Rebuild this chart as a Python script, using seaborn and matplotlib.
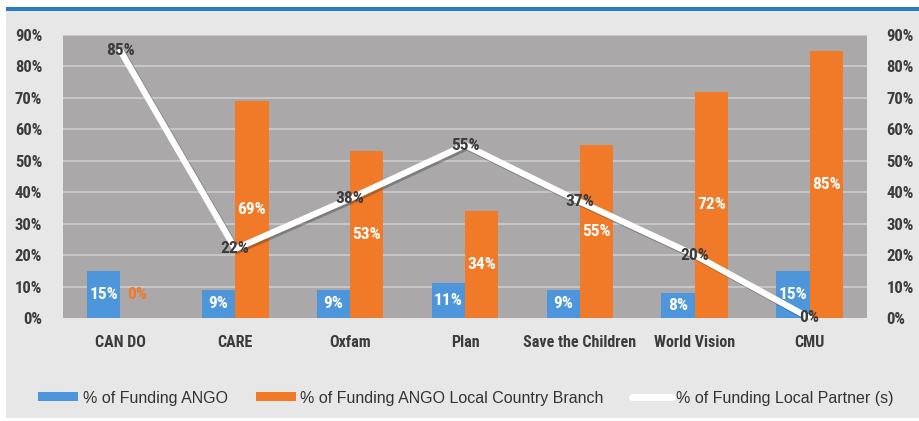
import numpy as np
import pandas as pd
import matplotlib
matplotlib.use("Agg")
import matplotlib.pyplot as plt
import matplotlib.patheffects as pe
from matplotlib.patches import Rectangle, Patch
from matplotlib.lines import Line2D
from matplotlib import font_manager as fm
import seaborn as sns

categories = ["CAN DO", "CARE", "Oxfam", "Plan", "Save the Children", "World Vision", "CMU"]
ango = [15, 9, 9, 11, 9, 8, 15]
branch = [0, 69, 53, 34, 55, 72, 85]
partner = [85, 22, 38, 55, 37, 20, 0]
yticks = [0, 10, 20, 30, 40, 50, 60, 70, 80, 90]
series_names = ["% of Funding ANGO", "% of Funding ANGO Local Country Branch",
                "% of Funding Local Partner (s)"]

BLUE = "#4d96dc"
ORANGE = "#f07a28"
PLOTBG = "#aaa8a8"
FIGBG = "#e8e7e8"
TXT = "#3c3c3c"

sns.set_theme(style="white")
plt.rcParams["font.family"] = ["Liberation Sans", "DejaVu Sans"]
avail = {f.name for f in fm.fontManager.ttflist}
NARROW = [n for n in ["DejaVu Sans Condensed", "Liberation Sans Narrow", "Roboto Condensed"]
          if n in avail] + ["Roboto", "DejaVu Sans"]

df = pd.DataFrame({
    "cat": categories * 2,
    "val": ango + branch,
    "series": [series_names[0]] * len(categories) + [series_names[1]] * len(categories),
})

fig = plt.figure(figsize=(9.19, 4.21), dpi=100)
fig.patch.set_facecolor("white")
W, H = 919, 421
fig.add_artist(Rectangle((6 / W, 3 / H), 1, 1 - 14 / H, transform=fig.transFigure,
                         facecolor=FIGBG, edgecolor="none", zorder=0))
fig.add_artist(Rectangle((6 / W, 1 - 11 / H), 1, 4 / H, transform=fig.transFigure,
                         facecolor="#2a7bc6", edgecolor="none", zorder=0))

ax = fig.add_axes([63 / W, 1 - 318 / H, (867 - 63) / W, (318 - 35) / H])
ax.set_facecolor(PLOTBG)
sns.barplot(data=df, x="cat", y="val", hue="series", order=categories,
            hue_order=series_names[:2], palette=[BLUE, ORANGE], width=0.58,
            gap=0, ax=ax, legend=False, saturation=1, zorder=3, linewidth=0,
            edgecolor="none")
ax.set_ylim(0, 90)
ax.set_xlim(-0.5, len(categories) - 0.5)
ax.set_yticks(yticks)
ax.set_yticklabels([f"{t}%" for t in yticks])
for t in yticks[1:]:
    ax.axhline(t, color="#cdcdcd", lw=1.2, zorder=1)
for s in ax.spines.values():
    s.set_visible(False)
ax.set_xlabel("")
ax.set_ylabel("")
ax.tick_params(axis="y", length=0, pad=15, labelsize=12, labelcolor=TXT)
ax.tick_params(axis="x", length=0, pad=12, labelsize=11.5, labelcolor=TXT)
for lab in ax.get_yticklabels() + ax.get_xticklabels():
    lab.set_fontfamily(NARROW)
    lab.set_fontweight("bold")

ax2 = ax.twinx()
ax2.set_ylim(0, 90)
ax2.set_yticks(yticks)
ax2.set_yticklabels([f"{t}%" for t in yticks])
for s in ax2.spines.values():
    s.set_visible(False)
ax2.tick_params(axis="y", length=0, pad=14, labelsize=12, labelcolor=TXT)
for lab in ax2.get_yticklabels():
    lab.set_fontfamily(NARROW)
    lab.set_fontweight("bold")

# bar labels
bw = 0.29
LBL = 12.5
xs = np.arange(len(categories))
for i, (a, b) in enumerate(zip(ango, branch)):
    ax.text(i - bw / 2, a / 2, f"{a}%", ha="center", va="center", color="white",
            fontsize=LBL, fontweight="bold", family=NARROW, zorder=6)
    if b > 0:
        ax.text(i + bw / 2, b / 2, f"{b}%", ha="center", va="center", color="white",
                fontsize=LBL, fontweight="bold", family=NARROW, zorder=6)
    else:
        ax.text(i + bw / 2, a / 2, f"{b}%", ha="center", va="center", color=ORANGE,
                fontsize=LBL, fontweight="bold", family=NARROW, zorder=6)

# line
sns.lineplot(x=xs, y=partner, ax=ax, color="white", lw=4.5, zorder=5,
             path_effects=[pe.SimpleLineShadow(offset=(1.5, -1.5), alpha=0.3),
                           pe.Normal()])
ax.set_xlim(-0.5, len(categories) - 0.5)
ax.set_ylim(0, 90)
for i, v in enumerate(partner):
    ax.text(i, v, f"{v}%", ha="center", va="center", color=TXT, fontsize=LBL,
            fontweight="bold", family=NARROW, zorder=7, clip_on=False)

handles = [Patch(facecolor=BLUE, edgecolor="none"),
           Patch(facecolor=ORANGE, edgecolor="none"),
           Line2D([0], [0], color="white", lw=5)]
leg = fig.legend(handles, series_names, loc="center", bbox_to_anchor=(0.507, 1 - 398 / H),
                 ncol=3, frameon=False, fontsize=11.5, handlelength=2.5,
                 handleheight=0.5, columnspacing=1.75, handletextpad=0.3)
for t in leg.get_texts():
    t.set_color("#333333")

fig.savefig("out.png", dpi=100, facecolor=fig.get_facecolor())
